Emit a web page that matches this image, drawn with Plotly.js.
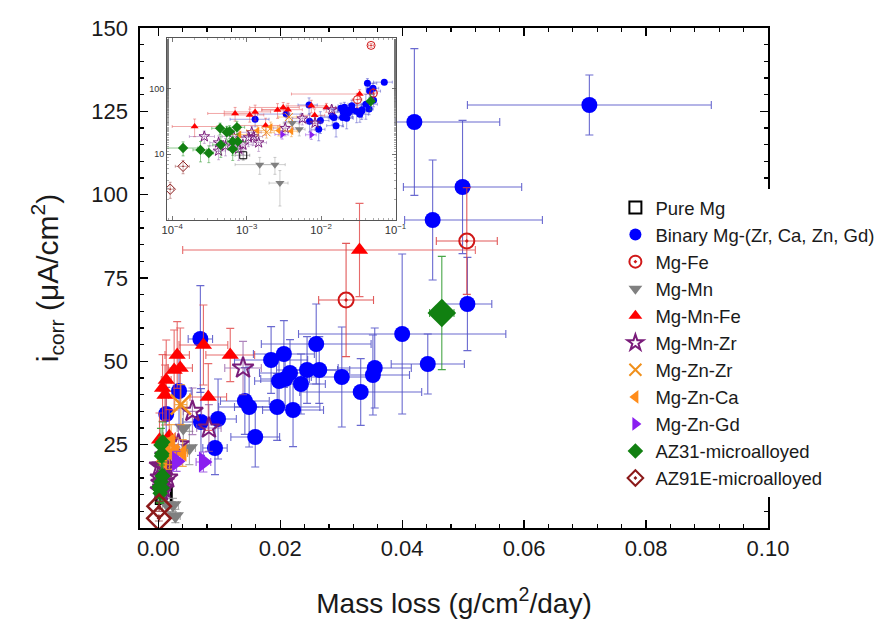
<!DOCTYPE html>
<html>
<head>
<meta charset="utf-8">
<script src="https://cdn.plot.ly/plotly-3.0.1.min.js"></script>
<style>html,body{margin:0;padding:0;background:#fff;}#chart{width:879px;height:622px;}</style>
</head>
<body>
<div id="chart"></div>
<script>
// ---------------- DATA ----------------
const pureX = [0.0009];
const pureY = [9.6];
const pureEX = [0.0002];
const pureEY = [1.5];

const binX = [0.0707, 0.042, 0.0499, 0.045, 0.0507, 0.040, 0.0442, 0.0355, 0.0352, 0.0301, 0.0332, 0.0259, 0.0206, 0.0185, 0.0216, 0.0198, 0.0208, 0.0244, 0.0264, 0.0234, 0.0142, 0.0149, 0.0195, 0.0221, 0.0070, 0.0098, 0.0159, 0.0093, 0.0034, 0.0013, 0.0069];
const binY = [126.9, 121.8, 102.3, 92.4, 67.2, 58.2, 49.2, 48.0, 45.9, 45.3, 40.8, 55.2, 52.2, 50.4, 46.5, 44.1, 44.7, 47.4, 47.4, 43.2, 38.1, 36.3, 36.3, 35.4, 31.8, 32.7, 27.3, 24.0, 41.1, 34.2, 56.7];
const binEXp = [0.020, 0.014, 0.0097, 0.018, 0.004, 0.017, 0.006, 0.006, 0.006, 0.005, 0.010, 0.009, 0.005, 0.006, 0.005, 0.004, 0.004, 0.005, 0.005, 0.004, 0.004, 0.005, 0.007, 0.005, 0.003, 0.003, 0.004, 0.002, 0.002, 0.0007, 0.002];
const binEXm = [0.020, 0.003, 0.0097, 0.0046, 0.004, 0.017, 0.006, 0.006, 0.006, 0.005, 0.010, 0.009, 0.005, 0.006, 0.005, 0.004, 0.004, 0.005, 0.005, 0.004, 0.004, 0.005, 0.007, 0.005, 0.003, 0.003, 0.004, 0.002, 0.002, 0.0007, 0.002];
const binEY = [9, 22, 20, 18, 14, 24, 9, 12, 12, 15, 10, 12, 10, 10, 10, 8, 8, 10, 10, 9, 10, 12, 10, 11, 10, 12, 9, 8, 10, 8, 16];

const feX = [0.0308, 0.0506, 0.047];
const feY = [68.4, 86.1, 464];
const feEX = [0.0045, 0.005, 0.004];
const feEY = [17, 16, 30];

const mnX = [0.0015, 0.0024, 0.0028, 0.0041, 0.0051];
const mnY = [6.9, 6.9, 3.6, 30, 24];
const mnEX = [0.0008, 0.0009, 0.0008, 0.001, 0.001];
const mnEY = [2, 2, 2, 6, 5];

const mnfeX = [0.0002, 0.0007, 0.0011, 0.0013, 0.0018, 0.0026, 0.0031, 0.0036, 0.0074, 0.0082, 0.0118, 0.033];
const mnfeY = [26.5, 42.0, 39.9, 44.4, 27.5, 47.4, 51.9, 48.0, 54.9, 39.3, 51.9, 83.4];
const mnfeEXp = [0.0002, 0.0004, 0.0006, 0.0008, 0.001, 0.001, 0.002, 0.002, 0.004, 0.003, 0.004, 0.019];
const mnfeEXm = [0.0001, 0.0004, 0.0006, 0.0008, 0.001, 0.001, 0.002, 0.002, 0.004, 0.003, 0.004, 0.029];
const mnfeEY = [8, 10, 9, 12, 8, 12, 10, 12, 12, 10, 8, 14];

const mnzrX = [0.00027, 0.00042, 0.00042, 0.00052, 0.00067, 0.00078, 0.00089, 0.00106, 0.00117, 0.00124, 0.00145, 0.0033, 0.0056, 0.0083, 0.0139];
const mnzrY = [18.6, 15, 11.2, 13.4, 18.6, 12, 13.9, 18, 21.6, 18.6, 15, 25, 35, 30, 48];
const mnzrEX = [0.0001, 0.0001, 0.0001, 0.0002, 0.0002, 0.0002, 0.0003, 0.0003, 0.0004, 0.0004, 0.0004, 0.001, 0.0015, 0.002, 0.003];
const mnzrEY = [4, 4, 3, 4, 5, 4, 4, 5, 5, 5, 4, 6, 7, 7, 8];

const znzrX = [0.00185, 0.0037];
const znzrY = [21.6, 37];
const znzrEX = [0.0005, 0.001];
const znzrEY = [4, 6];

const zncaX = [0.0008, 0.0014, 0.0021, 0.0027, 0.0040];
const zncaY = [20, 23, 26, 23, 22.5];
const zncaEX = [0.0002, 0.0004, 0.0005, 0.0006, 0.0008];
const zncaEY = [4, 4, 5, 4, 4];

const zngdX = [0.003, 0.0074];
const zngdY = [20, 19.8];
const zngdEX = [0.0006, 0.0012];
const zngdEY = [3, 3];

const az31X = [0.00014, 0.00024, 0.00031, 0.00044, 0.00045, 0.00054, 0.00059, 0.00065, 0.00074, 0.00076, 0.00065, 0.0465];
const az31Y = [12.4, 11.6, 10.4, 24.9, 13.9, 21.6, 22.3, 15.6, 25.8, 15.6, 12, 64.5];
const az31EX = [0.00008, 0.00005, 0.00005, 0.0001, 0.0001, 0.0001, 0.0001, 0.0001, 0.0002, 0.0002, 0.0001, 0.002];
const az31EY = [3, 4, 3, 5, 5, 5, 5, 6, 6, 5, 4, 17];

const az91X = [0.00014, 0.000094];
const az91Y = [6.5, 2.9];
const az91EX = [0.00003, 0.00001];
const az91EY = [1.5, 0.8];

const yTicks = [25, 50, 75, 100, 125, 150];

// ---------------- TRACES ----------------
const traces = [];
function addSeries(name, x, y, exp, exm, ey, st) {
  traces.push({
    type: 'scatter', mode: 'markers', name: name, x: x, y: y,
    xaxis: 'x', yaxis: 'y', cliponaxis: true,
    marker: {symbol: st.symbol, color: st.color, size: st.size, opacity: 1,
             line: {color: st.lineColor || st.color, width: st.lineWidth || 0}},
    error_x: {type: 'data', symmetric: false, array: exp, arrayminus: exm,
              color: st.errColor, thickness: 1.1, width: 4},
    error_y: {type: 'data', symmetric: true, array: ey,
              color: st.errColor, thickness: 1.1, width: 4}
  });
  traces.push({
    type: 'scatter', mode: 'markers', name: name, x: x, y: y,
    xaxis: 'x2', yaxis: 'y2', showlegend: false, cliponaxis: true,
    marker: {symbol: st.symbol, color: st.color, size: st.insetSize || 7, opacity: 1,
             line: {color: st.lineColor || st.color, width: st.lineWidth ? 1 : 0}},
    error_x: {type: 'data', symmetric: false, array: exp, arrayminus: exm,
              color: st.errColor, thickness: 0.6, width: 1.5},
    error_y: {type: 'data', symmetric: true, array: ey,
              color: st.errColor, thickness: 0.6, width: 1.5}
  });
}

addSeries('Pure Mg', pureX, pureY, pureEX, pureEX, pureEY,
  {symbol: 'square-open', color: '#000000', size: 15, lineWidth: 3, errColor: '#777777', insetSize: 7});
addSeries('Binary Mg-(Zr, Ca, Zn, Gd)', binX, binY, binEXp, binEXm, binEY,
  {symbol: 'circle', color: '#0000ff', size: 16, errColor: 'rgba(80,80,200,0.85)', insetSize: 7});
addSeries('Mg-Fe', feX, feY, feEX, feEX, feEY,
  {symbol: 'circle-open-dot', color: '#d01818', size: 15, lineWidth: 2, errColor: 'rgba(220,60,60,0.85)', insetSize: 8});
addSeries('Mg-Mn', mnX, mnY, mnEX, mnEX, mnEY,
  {symbol: 'triangle-down', color: '#808080', size: 15, errColor: 'rgba(150,150,150,0.8)', insetSize: 8});
addSeries('Mg-Mn-Fe', mnfeX, mnfeY, mnfeEXp, mnfeEXm, mnfeEY,
  {symbol: 'triangle-up', color: '#ff0000', size: 15, errColor: 'rgba(225,70,70,0.8)', insetSize: 7});
addSeries('Mg-Mn-Zr', mnzrX, mnzrY, mnzrEX, mnzrEX, mnzrEY,
  {symbol: 'star-open', color: '#7a1c7a', size: 16, lineWidth: 2, errColor: 'rgba(140,80,160,0.7)', insetSize: 8});
addSeries('Mg-Zn-Zr', znzrX, znzrY, znzrEX, znzrEX, znzrEY,
  {symbol: 'x-thin-open', color: '#f0901c', size: 20, lineWidth: 2.5, errColor: 'rgba(240,150,40,0.8)', insetSize: 8});
addSeries('Mg-Zn-Ca', zncaX, zncaY, zncaEX, zncaEX, zncaEY,
  {symbol: 'triangle-left', color: '#ff8c1a', size: 15, errColor: 'rgba(240,150,40,0.8)', insetSize: 7});
addSeries('Mg-Zn-Gd', zngdX, zngdY, zngdEX, zngdEX, zngdEY,
  {symbol: 'triangle-right', color: '#8a1ff0', size: 18, errColor: 'rgba(140,60,220,0.8)', insetSize: 7});
addSeries('AZ31-microalloyed', az31X, az31Y, az31EX, az31EX, az31EY,
  {symbol: 'diamond', color: '#118011', size: az31X.map(v => v > 0.01 ? 22 : 12), errColor: 'rgba(40,150,40,0.85)', insetSize: 8});
addSeries('AZ91E-microalloyed', az91X, az91Y, az91EX, az91EX, az91EY,
  {symbol: 'diamond-open-dot', color: '#8b1a1a', size: 18, lineWidth: 2.5, errColor: 'rgba(140,40,40,0.7)', insetSize: 8});

// ---------------- LAYOUT ----------------
const FONT = 'Liberation Sans, Arial, sans-serif';
const layout = {
  width: 879, height: 622,
  margin: {l: 140, r: 111, t: 28, b: 94, autoexpand: false},
  paper_bgcolor: '#ffffff', plot_bgcolor: 'rgba(0,0,0,0)',
  font: {family: FONT, color: '#1a1a1a'},
  showlegend: true,
  legend: {x: 0.757, y: 0.678, xanchor: 'left', yanchor: 'top',
           font: {family: FONT, size: 18.5, color: '#1a1a1a'},
           bgcolor: '#ffffff', itemsizing: 'constant', tracegroupgap: 0},
  xaxis: {
    domain: [0, 1], range: [-0.003, 0.1], tick0: 0, dtick: 0.02, tickformat: '.2f',
    ticks: 'inside', ticklen: 8, tickwidth: 1.3, tickcolor: '#000',
    minor: {ticks: 'inside', dtick: 0.004, tick0: 0, ticklen: 4, tickwidth: 1.2, tickcolor: '#000'},
    showline: true, linecolor: '#000', linewidth: 1.6, mirror: 'ticks',
    showgrid: false, zeroline: false,
    tickfont: {family: FONT, size: 22, color: '#1a1a1a'},
    title: {text: 'Mass loss (g/cm<sup>2</sup>/day)', font: {family: FONT, size: 28, color: '#1a1a1a'}, standoff: 33},
    anchor: 'y'
  },
  yaxis: {
    domain: [0, 1], range: [0, 150], tickvals: yTicks,
    ticks: 'inside', ticklen: 8, tickwidth: 1.3, tickcolor: '#000',
    minor: {ticks: 'inside', dtick: 5, tick0: 0, ticklen: 4, tickwidth: 1.2, tickcolor: '#000'},
    showline: true, linecolor: '#000', linewidth: 1.6, mirror: 'ticks',
    showgrid: false, zeroline: false,
    tickfont: {family: FONT, size: 22, color: '#1a1a1a'},
    ticklabelstandoff: 6,
    title: {text: 'i<sub>corr</sub> (μA/cm<sup>2</sup>)', font: {family: FONT, size: 30, color: '#1a1a1a'}, standoff: 24},
    anchor: 'x'
  },
  xaxis2: {
    domain: [0.043, 0.408], type: 'log', range: [-4.07, -0.99],
    dtick: 1, exponentformat: 'power', showexponent: 'all',
    ticks: 'inside', ticklen: 4, tickwidth: 0.8, tickcolor: '#555',
    minor: {ticks: 'inside', ticklen: 2, tickwidth: 0.6, tickcolor: '#777'},
    showline: true, linecolor: '#555', linewidth: 1, mirror: 'ticks',
    showgrid: false, zeroline: false,
    tickfont: {family: FONT, size: 9, color: '#333'},
    anchor: 'y2'
  },
  yaxis2: {
    domain: [0.616, 0.98], type: 'log', range: [-0.01, 2.78],
    tickvals: [10, 100], ticktext: ['10', '100'],
    ticks: 'inside', ticklen: 4, tickwidth: 0.8, tickcolor: '#555',
    minor: {ticks: 'inside', ticklen: 2, tickwidth: 0.6, tickcolor: '#777'},
    showline: true, linecolor: '#555', linewidth: 1, mirror: 'ticks',
    showgrid: false, zeroline: false,
    tickfont: {family: FONT, size: 9, color: '#333'},
    anchor: 'x2'
  }
};

Plotly.newPlot('chart', traces, layout, {displayModeBar: false, staticPlot: true});
</script>
</body>
</html>
